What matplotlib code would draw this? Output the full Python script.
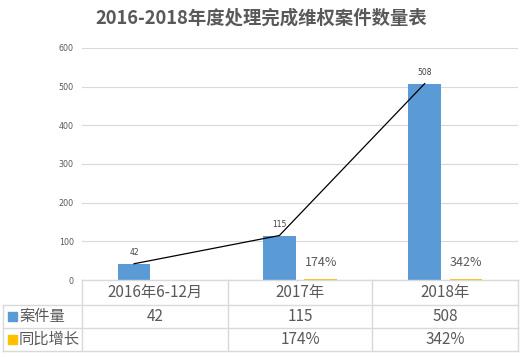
import matplotlib
matplotlib.use("Agg")
import matplotlib.pyplot as plt
import numpy as np

plt.rcParams['font.family'] = ['Noto Sans CJK SC', 'DejaVu Sans']

title = "2016-2018年度处理完成维权案件数量表"
categories = ["2016年6-12月", "2017年", "2018年"]
cases = [42, 115, 508]
growth = [None, 1.74, 3.42]
growth_labels = ["", "174%", "342%"]
series_names = ["案件量", "同比增长"]
yticks = [0, 100, 200, 300, 400, 500, 600]

BLUE = "#5B9BD5"
ORANGE = "#FFC000"
GRAY = "#595959"
GRID = "#D9D9D9"

W, H = 522, 358
fig = plt.figure(figsize=(W / 100, H / 100), dpi=100)

def fx(px):
    return px / W

def fy(py):
    return 1 - py / H

left, right, top, bottom = 82, 518, 48, 280
ax = fig.add_axes([fx(left), fy(bottom), fx(right - left), fy(top) - fy(bottom)])
ax.set_xlim(-0.5, 2.5)
ax.set_ylim(0, 600)
x = np.arange(len(categories))
bw = 0.226
off = 0.142
ax.bar(x - off, cases, width=bw, color=BLUE, zorder=2)
gvals = [g if g is not None else 0 for g in growth]
ax.bar(x[1:] + off, gvals[1:], width=bw, color=ORANGE, zorder=2)
ax.plot(x - off, cases, color="black", lw=0.9, zorder=3)
for xi, v in zip(x, cases):
    ax.text(xi - off, v + 18, str(v), ha="center", va="bottom", fontsize=5.5,
            color="#404040", family="DejaVu Sans")
for xi, lab in zip(x, growth_labels):
    if lab:
        ax.text(xi + off, 44, lab, ha="center", va="center", fontsize=9, color=GRAY)
ax.set_yticks(yticks)
ax.set_yticklabels([str(t) for t in yticks], fontsize=5.8, color=GRAY, family="DejaVu Sans")
ax.tick_params(axis="y", length=0, pad=6)
ax.set_xticks([])
ax.grid(axis="y", color=GRID, lw=0.8, zorder=0)
for s in ax.spines.values():
    s.set_visible(False)

# Table overlay in pixel coordinates
tab = fig.add_axes([0, 0, 1, 1], zorder=5)
tab.set_xlim(0, W)
tab.set_ylim(H, 0)
tab.axis("off")
rows_y = [280, 305, 328, 351]
cols_x = [82, 228, 372, 518]
lc = GRID
tab.plot([82, 518], [280, 280], color=lc, lw=1)
for yy in rows_y[1:]:
    tab.plot([3, 518], [yy, yy], color=lc, lw=1)
for xx in cols_x:
    tab.plot([xx, xx], [280, 351], color=lc, lw=1)
tab.plot([3, 3], [305, 351], color=lc, lw=1)

centers = [(cols_x[i] + cols_x[i + 1]) / 2 for i in range(3)]
for cx, c in zip(centers, categories):
    tab.text(cx, 292.5, c, ha="center", va="center", fontsize=11, color=GRAY)
for cx, v in zip(centers, cases):
    tab.text(cx, 316.5, str(v), ha="center", va="center", fontsize=11, color=GRAY)
for cx, lab in zip(centers, growth_labels):
    tab.text(cx, 339.5, lab, ha="center", va="center", fontsize=11, color=GRAY)

for yy, name, col in zip([316.5, 339.5], series_names, [BLUE, ORANGE]):
    tab.add_patch(plt.Rectangle((8, yy - 4.5), 9, 9, color=col))
    tab.text(19, yy, name, ha="left", va="center", fontsize=11, color=GRAY)

fig.text(0.5, fy(18), title, ha="center", va="center", fontsize=13.2,
         fontweight="bold", color=GRAY)

fig.savefig("out.png", dpi=100)
